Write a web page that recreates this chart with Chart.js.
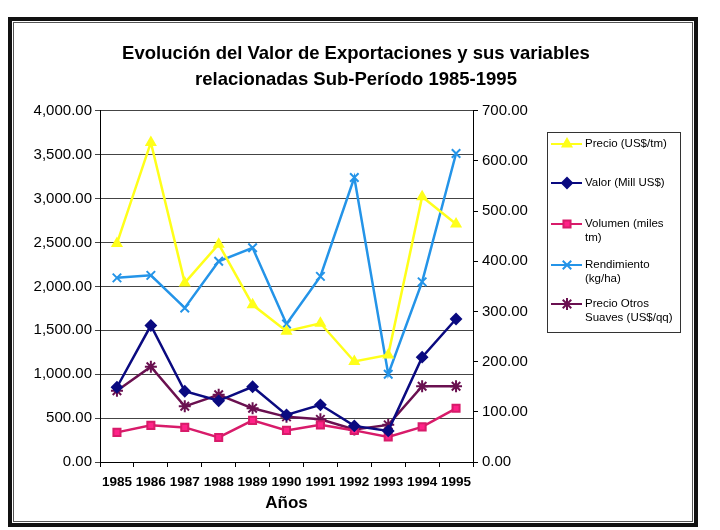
<!DOCTYPE html>
<html lang="es">
<head>
    <meta charset="UTF-8">
    <title>Evolución del Valor de Exportaciones</title>
    <script src="https://cdn.jsdelivr.net/npm/chart.js"></script>
    <style>
        body { margin: 0; background: #fff; }
        #wrap { position: relative; width: 720px; height: 530px; }
        #marco {
            position: absolute; left: 8px; top: 17px; width: 690px; height: 510px;
            box-sizing: border-box; border: 4px solid #111;
            box-shadow: inset 0 0 0 1px #fff, inset 0 0 0 2px #555;
            pointer-events: none;
        }
    </style>
</head>
<body>
<div id="wrap">
    <canvas id="grafico" width="720" height="530"></canvas>
    <div id="marco"></div>
</div>

<script>
    // datos
    const anios = ['1985', '1986', '1987', '1988', '1989', '1990', '1991', '1992', '1993', '1994', '1995'];
    const precio = [2490, 3640, 2040, 2480, 1790, 1490, 1580, 1145, 1220, 3020, 2710];   // eje izquierdo
    const valor = [149, 272, 141, 122, 150, 94, 114, 72, 62, 209, 285];
    const volumen = [59, 73, 69, 49, 83, 63, 74, 63, 50, 70, 107];
    const rendimiento = [367, 372, 307, 400, 427, 275, 370, 567, 175, 359, 615];
    const otrosSuaves = [142, 190, 111, 134, 107, 90, 85, 65, 74, 151, 151];

    const fuente = '"Liberation Sans", Arial, sans-serif';
    const numIzq = v => v.toLocaleString('en-US', {minimumFractionDigits: 2, maximumFractionDigits: 2});

    // leyenda dibujada a mano (etiquetas en varias lineas)
    const leyendaTextos = [
        ['Precio (US$/tm)'],
        ['Valor (Mill US$)'],
        ['Volumen (miles', 'tm)'],
        ['Rendimiento', '(kg/ha)'],
        ['Precio Otros', 'Suaves (US$/qq)']
    ];
    const leyendaY = [144, 183, 224, 265, 304];

    const leyendaPlugin = {
        id: 'leyendaPropia',
        afterDraw(chart) {
            const c = chart.ctx;
            c.save();
            c.strokeStyle = '#333';
            c.lineWidth = 1;
            c.strokeRect(547.5, 132.5, 133, 200);
            c.font = '11.5px ' + fuente;
            c.textBaseline = 'middle';
            chart.data.datasets.forEach((ds, i) => {
                const y = leyendaY[i];
                c.strokeStyle = ds.borderColor;
                c.lineWidth = 2;
                c.beginPath();
                c.moveTo(551, y);
                c.lineTo(582, y);
                c.stroke();
                c.fillStyle = ds.pointBackgroundColor;
                c.strokeStyle = ds.pointBorderColor;
                c.lineWidth = ds.pointBorderWidth;
                Chart.helpers.drawPoint(c, {
                    pointStyle: ds.pointStyle,
                    radius: ds.pointRadius,
                    borderWidth: ds.pointBorderWidth
                }, 567, y);
                c.fillStyle = '#000';
                leyendaTextos[i].forEach((t, k) => c.fillText(t, 585, y + k * 14));
            });
            c.restore();
        }
    };

    function serie(label, data, color, estilo, eje, radio, fondo) {
        return {
            label: label,
            data: data,
            yAxisID: eje,
            borderColor: color,
            backgroundColor: fondo || color,
            pointBackgroundColor: fondo || color,
            pointBorderColor: color,
            borderWidth: 2.5,
            pointStyle: estilo,
            pointRadius: radio,
            pointBorderWidth: 2,
            tension: 0,
            fill: false
        };
    }

    new Chart(document.getElementById('grafico').getContext('2d'), {
        type: 'line',
        data: {
            labels: anios,
            datasets: [
                serie('Precio (US$/tm)', precio, '#FFFF1A', 'triangle', 'y', 5),
                serie('Valor (Mill US$)', valor, '#0A0A80', 'rectRot', 'y1', 5),
                serie('Volumen (miles tm)', volumen, '#D81B6A', 'rect', 'y1', 5, '#FF2288'),
                serie('Rendimiento (kg/ha)', rendimiento, '#2494E8', 'crossRot', 'y1', 6),
                serie('Precio Otros Suaves (US$/qq)', otrosSuaves, '#6A1050', 'star', 'y1', 6)
            ]
        },
        options: {
            responsive: false,
            animation: false,
            layout: { padding: { left: 0, right: 8, top: 0, bottom: 0 } },
            plugins: {
                legend: { display: false },
                tooltip: { enabled: false },
                title: {
                    display: true,
                    text: ['Evolución del Valor de Exportaciones y sus variables', 'relacionadas Sub-Período 1985-1995'],
                    color: '#000',
                    font: { family: fuente, size: 18.5, weight: 'bold', lineHeight: 1.4 },
                    padding: { top: 41, bottom: 18 }
                }
            },
            scales: {
                x: {
                    offset: true,
                    grid: { offset: true, drawOnChartArea: false, color: '#000', tickLength: 5 },
                    border: { color: '#000', width: 1 },
                    ticks: { color: '#000', font: { family: fuente, size: 13.5, weight: 'bold' }, padding: 7, maxRotation: 0, autoSkip: false },
                    title: {
                        display: true, text: 'Años', color: '#000',
                        font: { family: fuente, size: 17, weight: 'bold' },
                        padding: { top: 16, bottom: 16 }
                    },
                    afterFit(s) { s.height = 68; }
                },
                y: {
                    position: 'left',
                    min: 0, max: 4000,
                    ticks: { stepSize: 500, color: '#000', font: { family: fuente, size: 15 }, padding: 3, callback: v => numIzq(v) },
                    grid: { color: '#444', lineWidth: 1, tickLength: 5 },
                    border: { color: '#000', width: 1 },
                    afterFit(s) { s.width = 100; }
                },
                y1: {
                    position: 'right',
                    min: 0, max: 700,
                    ticks: { stepSize: 100, color: '#000', font: { family: fuente, size: 15 }, padding: 4, callback: v => v.toFixed(2) },
                    grid: { drawOnChartArea: false, color: '#000', tickLength: 5 },
                    border: { color: '#000', width: 1 },
                    afterFit(s) { s.width = 239; }
                }
            }
        },
        plugins: [leyendaPlugin]
    });
</script>
</body>
</html>
